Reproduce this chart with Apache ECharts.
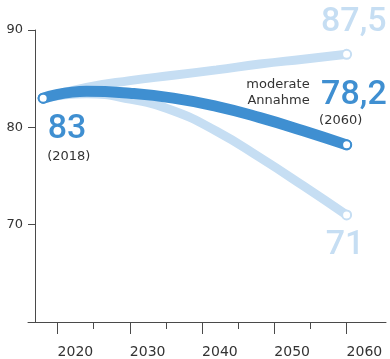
<!DOCTYPE html>
<html>
<head>
<meta charset="utf-8">
<script src="https://cdn.jsdelivr.net/npm/echarts@6/dist/echarts.min.js"></script>
<style>
  html, body { margin: 0; padding: 0; background: #fff; }
  #chart { width: 390px; height: 359px; }
</style>
</head>
<body>
<div id="chart"></div>
<script>
// data
const years = [2018, 2024, 2030, 2036, 2042, 2048, 2054, 2060];
const moderate = [83, 83.7, 83.5, 83.0, 82.15, 81.0, 79.65, 78.2];
const high = [83, 84.1, 84.8, 85.35, 85.9, 86.5, 87.0, 87.5];
const low = [83, 83.45, 82.9, 81.7, 79.6, 76.9, 74.0, 71];

const xLabels = [2020, 2030, 2040, 2050, 2060];
const xMinor = [2025, 2035, 2045, 2055];
const yTicks = [70, 80, 90];

const DARK = '#3f8fd1';
const LIGHT = '#c6def3';
const AXIS = '#4a4a4a';
const TEXT = '#333333';

const chart = echarts.init(document.getElementById('chart'));

// Punkte: nur Anfang/Ende mit Kreis
const toData = (values, first) =>
  values.map((v, i) => ({
    value: [years[i], v],
    symbol: i === values.length - 1 || (first && i === 0) ? 'circle' : 'none',
  }));

const fmt = (v) => String(v).replace('.', ',');

const lineSeries = (name, values, color, width, first, z) => ({
  name,
  type: 'line',
  data: toData(values, first),
  smooth: 0.5,
  symbolSize: 9,
  showAllSymbol: true,
  z,
  lineStyle: { color, width, cap: 'round' },
  itemStyle: { color: '#fff', borderColor: color, borderWidth: 2 },
  emphasis: { disabled: true },
});

const xBase = {
  type: 'value',
  min: 2015.9,
  max: 2065.45,
  position: 'bottom',
  splitLine: { show: false },
};

chart.setOption({
  animation: false,
  grid: { left: 28, right: 4, top: 30, bottom: 34 },
  xAxis: [
    {
      ...xBase,
      axisLine: { show: true, onZero: false, lineStyle: { color: AXIS, width: 1 } },
      axisTick: { show: true, customValues: xLabels, length: 12, lineStyle: { color: AXIS } },
      axisLabel: {
        customValues: xLabels,
        formatter: (v) => String(v),
        align: 'left',
        margin: 23,
        color: TEXT,
        fontFamily: 'DejaVu Sans',
        fontSize: 14,
      },
    },
    {
      // kurze Zwischenstriche
      ...xBase,
      axisLine: { show: false },
      axisTick: { show: true, customValues: xMinor, length: 7, lineStyle: { color: AXIS } },
      axisLabel: { show: false },
    },
  ],
  yAxis: {
    type: 'value',
    min: 60,
    max: 90,
    offset: -7,
    splitLine: { show: false },
    axisLine: { show: true, onZero: false, lineStyle: { color: AXIS, width: 1 } },
    axisTick: { show: true, customValues: yTicks, length: 7, lineStyle: { color: AXIS } },
    axisLabel: {
      customValues: yTicks,
      margin: 12,
      color: TEXT,
      fontFamily: 'DejaVu Sans',
      fontSize: 13,
    },
  },
  series: [
    lineSeries('niedrig', low, LIGHT, 9, false, 2),
    lineSeries('hoch', high, LIGHT, 9, false, 2),
    lineSeries('moderate Annahme', moderate, DARK, 11, true, 3),
  ],
});

// Beschriftungen an den Endpunkten
const px = (x, y) => chart.convertToPixel({ gridIndex: 0 }, [x, y]);
const last = years.length - 1;
const pStart = px(years[0], moderate[0]);
const pHigh = px(years[last], high[last]);
const pMod = px(years[last], moderate[last]);
const pLow = px(years[last], low[last]);

const big = { fontFamily: 'Roboto', fontWeight: 500, fontSize: 34 };
const small = { fontFamily: 'DejaVu Sans', fontSize: 13, fill: TEXT };

const text = (x, y, str, style, align) => ({
  type: 'text',
  x,
  y,
  silent: true,
  style: { text: str, align: align || 'left', verticalAlign: 'middle', ...style },
});

chart.setOption({
  graphic: [
    text(pStart[0] + 4.5, pStart[1] + 31.5, fmt(moderate[0]), { ...big, fill: DARK }),
    text(pStart[0] + 4, pStart[1] + 58, '(' + years[0] + ')', small),
    text(pHigh[0] + 40, pHigh[1] - 31.5, fmt(high[last]), { ...big, fill: LIGHT }, 'right'),
    text(pMod[0] - 25.5, pMod[1] - 49, fmt(moderate[last]), { ...big, fill: DARK }),
    text(pMod[0] - 27.5, pMod[1] - 24.7, '(' + years[last] + ')', small),
    text(pMod[0] - 37, pMod[1] - 59.8, 'moderate', small, 'right'),
    text(pMod[0] - 37, pMod[1] - 44.5, 'Annahme', small, 'right'),
    text(pLow[0] - 1.5, pLow[1] + 31, fmt(low[last]), { ...big, fill: LIGHT }, 'center'),
  ],
});
</script>
</body>
</html>
